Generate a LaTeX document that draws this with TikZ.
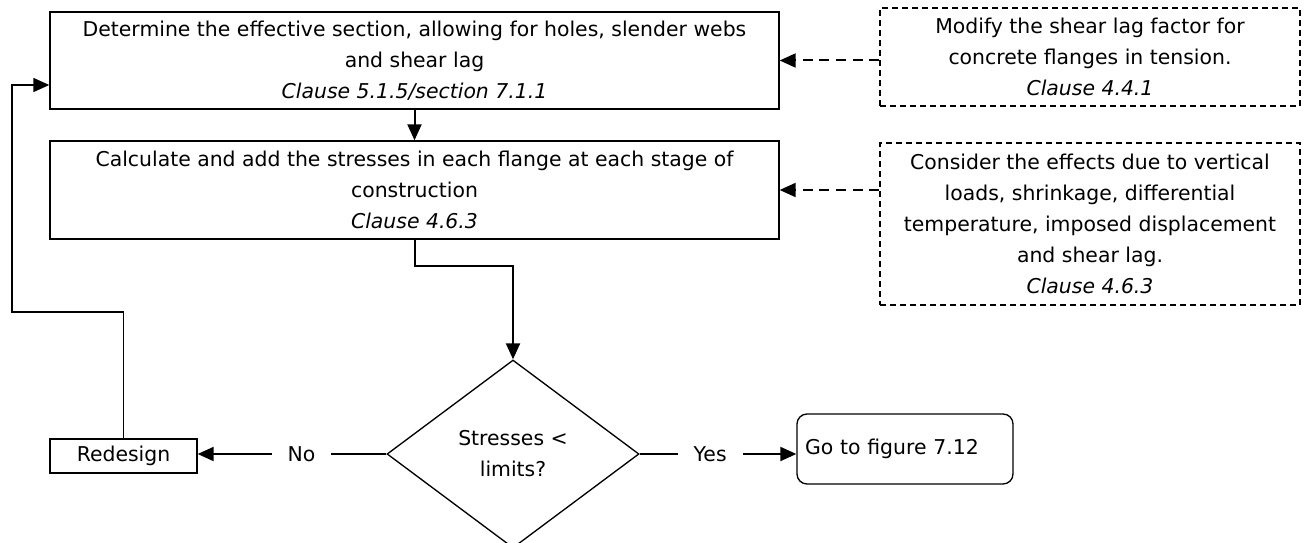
\documentclass[tikz,border=0pt]{standalone}
\usepackage{fontspec}
\setmainfont{DejaVu Sans}
\usetikzlibrary{shapes.geometric}
\usetikzlibrary{arrows.meta}

\begin{document}
\begin{tikzpicture}[x=0.75pt, y=-0.75pt, font=\fontsize{15.3}{23.25}\selectfont]
% style des noeuds
\tikzstyle{etape} = [rectangle, draw, line width=1pt, align=center, inner sep=0pt]
\tikzstyle{remarque} = [rectangle, draw, line width=1pt, dash pattern=on 4.5pt off 3pt, align=center, inner sep=0pt]
\tikzstyle{test} = [diamond, draw, line width=1pt, align=center, inner sep=0pt]
\tikzstyle{sortie} = [rectangle, draw, line width=1pt, rounded corners=7.5pt, align=left, inner xsep=6pt]
% style des flèches
\tikzstyle{suite} = [-{Triangle[length=12pt,width=10.5pt]}, line width=1.5pt]
\tikzstyle{renvoi} = [suite, dash pattern=on 7.5pt off 5pt]
\tikzstyle{choix} = [fill=white, inner xsep=12pt, pos=0.45]

\useasboundingbox (0,0) rectangle (1305,542);

%% placement des noeuds
\node[etape, minimum width=546.75pt, minimum height=72.75pt] (section) at (414.5,60.5)
  {Determine the effective section, allowing for holes, slender webs\\and shear lag\\\textit{Clause 5.1.5/section 7.1.1}};
\node[etape, minimum width=546.75pt, minimum height=73.5pt] (contraintes) at (414.5,190)
  {Calculate and add the stresses in each flange at each stage of\\construction\\\textit{Clause 4.6.3}};
\node[remarque, minimum width=315pt, minimum height=73.5pt] (modif) at (1090,57)
  {Modify the shear lag factor for\\concrete flanges in tension.\\\textit{Clause 4.4.1}};
\node[remarque, minimum width=315pt, minimum height=121.5pt] (effets) at (1090,224)
  {Consider the effects due to vertical\\loads, shrinkage, differential\\temperature, imposed displacement\\and shear lag.\\\textit{Clause 4.6.3}};
\node[test, minimum width=189pt, minimum height=141pt] (verif) at (513,454) {Stresses <\\limits?};
\node[etape, minimum width=110.25pt, minimum height=25.5pt] (refaire) at (123.5,456) {Redesign};
\node[sortie, text width=150pt, minimum height=52.5pt] (figure) at (905,449) {Go to figure 7.12};
%
\coordinate (retour) at (12,312);
\coordinate (entree) at (section.west |- 0,85);

%% placement des flèches
\draw[suite] (section.south) -- (contraintes.north);
\draw[renvoi] (modif.west |- section.east) -- (section.east);
\draw[renvoi] (effets.west |- contraintes.east) -- (contraintes.east);
\draw[suite] (contraintes.south) -- ++(0,26) -| (verif.north);
\draw[suite] (verif.west) -- node[choix] {No} (refaire.east |- verif.west);
\draw[suite] (verif.east) -- node[choix] {Yes} (figure.west |- verif.east);
\draw[suite, line width=1pt] (refaire.north) |- (retour) |- (entree);
\end{tikzpicture}
\end{document}
